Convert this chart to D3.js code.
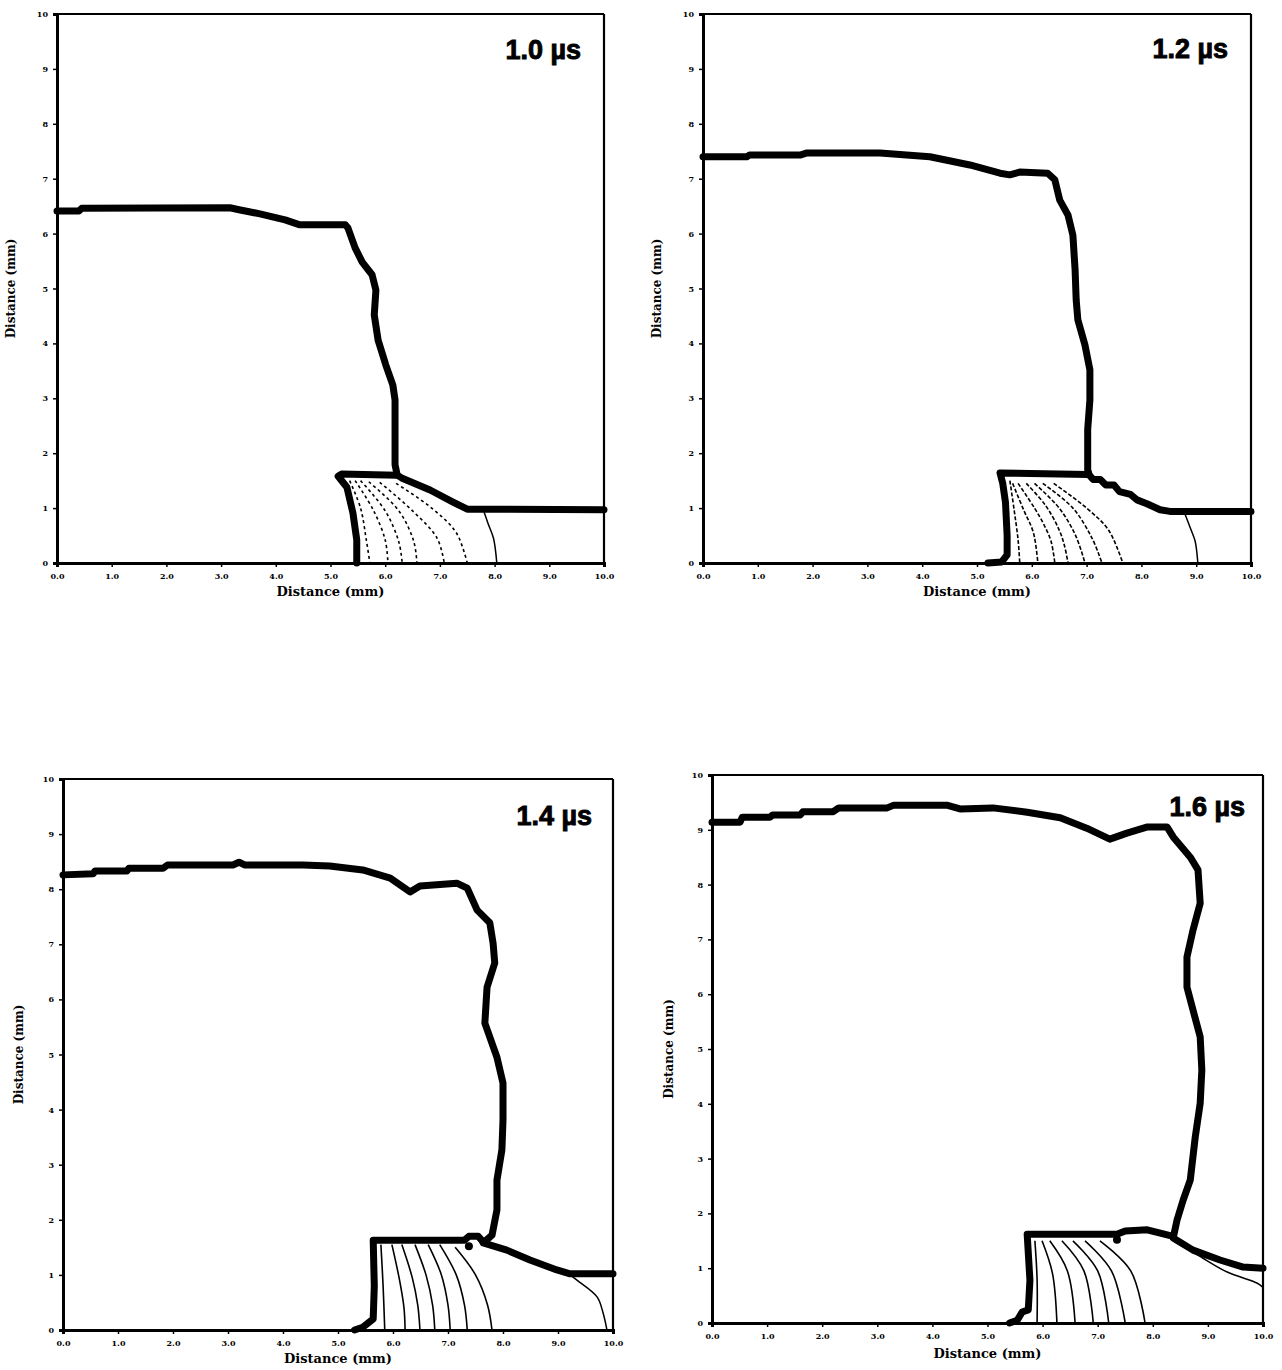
<!DOCTYPE html>
<html><head><meta charset="utf-8">
<script src="https://cdn.jsdelivr.net/npm/d3@7"></script>
<style>body{margin:0;background:#fff}</style>
</head><body><svg id="c" width="1282" height="1370"></svg>
<script>
// ---- data (mm) ----
const xTicks = [0,1,2,3,4,5,6,7,8,9,10];
const yTicks = [0,1,2,3,4,5,6,7,8,9,10];
const times = ["1.0 µs","1.2 µs","1.4 µs","1.6 µs"];
const axisTitle = "Distance (mm)";

// target free surface (thick)
const surface1 = [[0,6.41],[0.4,6.41],[0.45,6.46],[3.16,6.47],[3.35,6.43],[3.71,6.36],[4.17,6.25],[4.44,6.16],[5.27,6.16],[5.32,6.10],[5.45,5.74],[5.58,5.48],[5.76,5.25],[5.83,4.97],[5.80,4.52],[5.87,4.06],[6.01,3.61],[6.14,3.24],[6.18,2.97],[6.18,2.24],[6.18,1.79],[6.22,1.60],[6.3,1.55],[6.82,1.33],[7.24,1.11],[7.50,0.98],[10,0.97]];
const surface2 = [[0,7.40],[0.8,7.40],[0.85,7.43],[1.77,7.43],[1.9,7.47],[3.23,7.47],[4.14,7.40],[4.87,7.25],[5.42,7.10],[5.60,7.07],[5.78,7.12],[6.29,7.10],[6.42,6.98],[6.51,6.61],[6.66,6.34],[6.75,5.97],[6.79,5.34],[6.81,4.79],[6.84,4.43],[6.97,3.97],[7.06,3.52],[7.06,2.97],[7.02,2.43],[7.02,1.70],[7.05,1.60],[7.12,1.52],[7.25,1.52],[7.35,1.42],[7.5,1.42],[7.6,1.30],[7.8,1.25],[7.92,1.15],[8.1,1.08],[8.34,0.97],[8.52,0.94],[10,0.94]];
const surface3 = [[0,8.26],[0.55,8.28],[0.58,8.33],[1.16,8.33],[1.2,8.38],[1.82,8.38],[1.9,8.44],[3.09,8.44],[3.2,8.49],[3.3,8.44],[4.36,8.44],[4.85,8.42],[5.45,8.35],[5.95,8.20],[6.31,7.95],[6.49,8.06],[7.16,8.11],[7.35,8.02],[7.53,7.62],[7.76,7.39],[7.82,7.02],[7.85,6.66],[7.71,6.22],[7.67,5.57],[7.89,4.95],[8.0,4.48],[8.0,3.81],[7.98,3.27],[7.89,2.72],[7.89,2.18],[7.8,1.72],[7.64,1.58],[8.07,1.45],[8.49,1.27],[8.98,1.09],[9.22,1.02],[10,1.02]];
const surface4 = [[0,9.14],[0.51,9.14],[0.55,9.23],[1.05,9.23],[1.1,9.27],[1.6,9.27],[1.65,9.33],[2.2,9.33],[2.3,9.40],[3.18,9.40],[3.3,9.45],[4.26,9.45],[4.5,9.38],[5.1,9.40],[5.72,9.32],[6.32,9.22],[6.8,9.03],[7.22,8.83],[7.53,8.94],[7.89,9.05],[8.26,9.05],[8.37,8.87],[8.68,8.50],[8.82,8.27],[8.86,7.66],[8.73,7.17],[8.62,6.68],[8.62,6.13],[8.73,5.71],[8.86,5.22],[8.89,4.62],[8.86,4.01],[8.77,3.39],[8.68,2.61],[8.55,2.24],[8.44,1.88],[8.37,1.55],[8.73,1.33],[9.22,1.15],[9.64,1.02],[10,1.0]];

// projectile outline (thick)
const projectile1 = [[5.48,0],[5.48,0.42],[5.41,0.91],[5.30,1.38],[5.14,1.58],[5.2,1.62],[6.22,1.60]];
const projectile2 = [[5.2,0],[5.45,0.02],[5.55,0.15],[5.55,0.5],[5.52,1.1],[5.47,1.45],[5.42,1.64],[7.03,1.61]];
const projectile3 = [[5.3,0],[5.45,0.05],[5.64,0.2],[5.66,0.8],[5.64,1.63],[7.3,1.63],[7.38,1.70],[7.55,1.70],[7.64,1.60]];
const projectile4 = [[5.4,0],[5.54,0.05],[5.63,0.2],[5.74,0.24],[5.77,0.78],[5.72,1.62],[7.35,1.62],[7.5,1.68],[7.9,1.70],[8.37,1.58]];

// little knobs under the projectile top
const knob3 = [[7.38,1.52]];
const knob4 = [[7.35,1.52]];

// internal contours (thin)
const contours1 = [
  [[5.35,1.5],[5.55,1.0],[5.65,0.45],[5.72,0]],
  [[5.45,1.5],[5.78,0.97],[6.0,0.42],[6.05,0]],
  [[5.55,1.5],[6.0,0.95],[6.25,0.38],[6.31,0]],
  [[5.7,1.48],[6.25,0.95],[6.52,0.4],[6.58,0]],
  [[5.9,1.47],[6.5,0.95],[6.95,0.45],[7.08,0]],
  [[6.2,1.45],[6.85,1.0],[7.3,0.55],[7.5,0]]
];
const solid1 = [[7.8,0.95],[7.88,0.72],[7.98,0.45],[8.04,0]];
const contours2 = [
  [[5.6,1.5],[5.68,0.95],[5.75,0.42],[5.78,0]],
  [[5.65,1.45],[5.85,0.97],[6.03,0.55],[6.11,0]],
  [[5.75,1.45],[6.05,1.0],[6.22,0.7],[6.35,0.4],[6.42,0]],
  [[5.9,1.45],[6.25,1.05],[6.5,0.6],[6.6,0.3],[6.66,0]],
  [[6.05,1.45],[6.5,1.0],[6.8,0.5],[6.97,0]],
  [[6.2,1.45],[6.75,1.0],[7.1,0.45],[7.28,0]],
  [[6.4,1.45],[7.0,1.0],[7.4,0.6],[7.66,0]]
];
const solid2 = [[8.8,0.88],[8.9,0.62],[8.98,0.4],[9.03,0]];
const contours3 = [
  [[5.78,1.55],[5.82,0.8],[5.85,0]],
  [[5.98,1.55],[6.12,0.9],[6.2,0.4],[6.22,0]],
  [[6.16,1.55],[6.35,0.95],[6.45,0.45],[6.49,0]],
  [[6.4,1.55],[6.6,1.0],[6.72,0.45],[6.76,0]],
  [[6.64,1.55],[6.88,1.0],[7.0,0.45],[7.04,0]],
  [[6.85,1.55],[7.15,1.0],[7.3,0.45],[7.35,0]],
  [[7.13,1.5],[7.5,1.0],[7.72,0.45],[7.8,0]]
];
const solid3 = [[9.22,1.0],[9.35,0.9],[9.71,0.6],[9.82,0.31],[9.89,0]];
const contours4 = [
  [[5.86,1.5],[5.9,0.8],[5.9,0]],
  [[5.99,1.5],[6.18,0.9],[6.26,0]],
  [[6.13,1.5],[6.45,0.95],[6.59,0]],
  [[6.35,1.5],[6.75,0.95],[6.92,0]],
  [[6.55,1.5],[7.0,0.95],[7.2,0]],
  [[6.77,1.5],[7.25,0.95],[7.5,0]],
  [[7.04,1.5],[7.6,0.95],[7.86,0]]
];
const solid4 = [[8.37,1.5],[8.8,1.25],[9.35,0.93],[9.89,0.73],[10,0.65]];

// ---- layout ----
const panels = [
  {L:57, T:14, R:604, B:563, surface:surface1, proj:projectile1, cont:contours1, dash:"3,3", solid:solid1, knob:[], time:times[0], ttx:-23, tty:45, ytx:15, xty:33},
  {L:703, T:14, R:1251, B:563, surface:surface2, proj:projectile2, cont:contours2, dash:"4,2", solid:solid2, knob:[], time:times[1], ttx:-23, tty:44, ytx:661, xty:33},
  {L:63, T:779, R:613, B:1330, surface:surface3, proj:projectile3, cont:contours3, dash:null, solid:solid3, knob:knob3, time:times[2], ttx:-21, tty:46, ytx:23, xty:33},
  {L:712, T:775, R:1263, B:1323, surface:surface4, proj:projectile4, cont:contours4, dash:null, solid:solid4, knob:knob4, time:times[3], ttx:-18, tty:41, ytx:673, xty:35}
];

const svg = d3.select("#c");
const serif = "'DejaVu Serif','Liberation Serif',serif";

panels.forEach(p => {
  const x = d3.scaleLinear().domain([0,10]).range([p.L, p.R]);
  const y = d3.scaleLinear().domain([0,10]).range([p.B, p.T]);
  const g = svg.append("g");

  // frame top/right
  g.append("line").attr("x1",p.L).attr("x2",p.R).attr("y1",p.T).attr("y2",p.T).attr("stroke","#000").attr("stroke-width",2.2);
  g.append("line").attr("x1",p.R).attr("x2",p.R).attr("y1",p.T).attr("y2",p.B).attr("stroke","#000").attr("stroke-width",2.2);

  const xa = g.append("g").attr("transform",`translate(0,${p.B})`)
    .call(d3.axisBottom(x).tickValues(xTicks).tickSize(4).tickPadding(6).tickFormat(d3.format(".1f")));
  const ya = g.append("g").attr("transform",`translate(${p.L},0)`)
    .call(d3.axisLeft(y).tickValues(yTicks).tickSize(4).tickPadding(5).tickFormat(d3.format("d")));
  [xa, ya].forEach(a => {
    a.select(".domain").attr("stroke","#000").attr("stroke-width",3);
    a.selectAll(".tick line").attr("stroke","#000").attr("stroke-width",1.5);
    a.selectAll(".tick text").attr("font-family",serif).attr("font-weight","bold").attr("font-size",8).attr("fill","#000");
  });

  // axis titles
  g.append("text").attr("x",(p.L+p.R)/2).attr("y",p.B+p.xty)
    .attr("text-anchor","middle").attr("font-family",serif).attr("font-weight","bold").attr("font-size",13).text(axisTitle);
  g.append("text").attr("transform",`translate(${p.ytx},${(p.T+p.B)/2}) rotate(-90)`)
    .attr("text-anchor","middle").attr("font-family",serif).attr("font-weight","bold").attr("font-size",12).text(axisTitle);

  // time label
  g.append("text").attr("x",p.R+p.ttx).attr("y",p.T+p.tty).attr("text-anchor","end")
    .attr("font-family","'Liberation Sans',Arial,sans-serif").attr("font-weight","bold").attr("font-size",27)
    .attr("stroke","#000").attr("stroke-width",0.9).text(p.time);

  const lin = d3.line().x(d=>x(d[0])).y(d=>y(d[1]));
  const smooth = d3.line().x(d=>x(d[0])).y(d=>y(d[1])).curve(d3.curveCatmullRom.alpha(0.5));

  // contours
  p.cont.forEach(c => {
    const path = g.append("path").attr("d",smooth(c)).attr("fill","none").attr("stroke","#000").attr("stroke-width",1.6);
    if (p.dash) path.attr("stroke-dasharray",p.dash);
  });
  g.append("path").attr("d",smooth(p.solid)).attr("fill","none").attr("stroke","#000").attr("stroke-width",1.5);

  // thick outlines
  g.append("path").attr("d",lin(p.surface)).attr("fill","none").attr("stroke","#000").attr("stroke-width",7).attr("stroke-linejoin","round").attr("stroke-linecap","round");
  g.append("path").attr("d",lin(p.proj)).attr("fill","none").attr("stroke","#000").attr("stroke-width",7).attr("stroke-linejoin","round").attr("stroke-linecap","round");
  p.knob.forEach(k => g.append("circle").attr("cx",x(k[0])).attr("cy",y(k[1])).attr("r",4).attr("fill","#000"));
});
</script></body></html>
